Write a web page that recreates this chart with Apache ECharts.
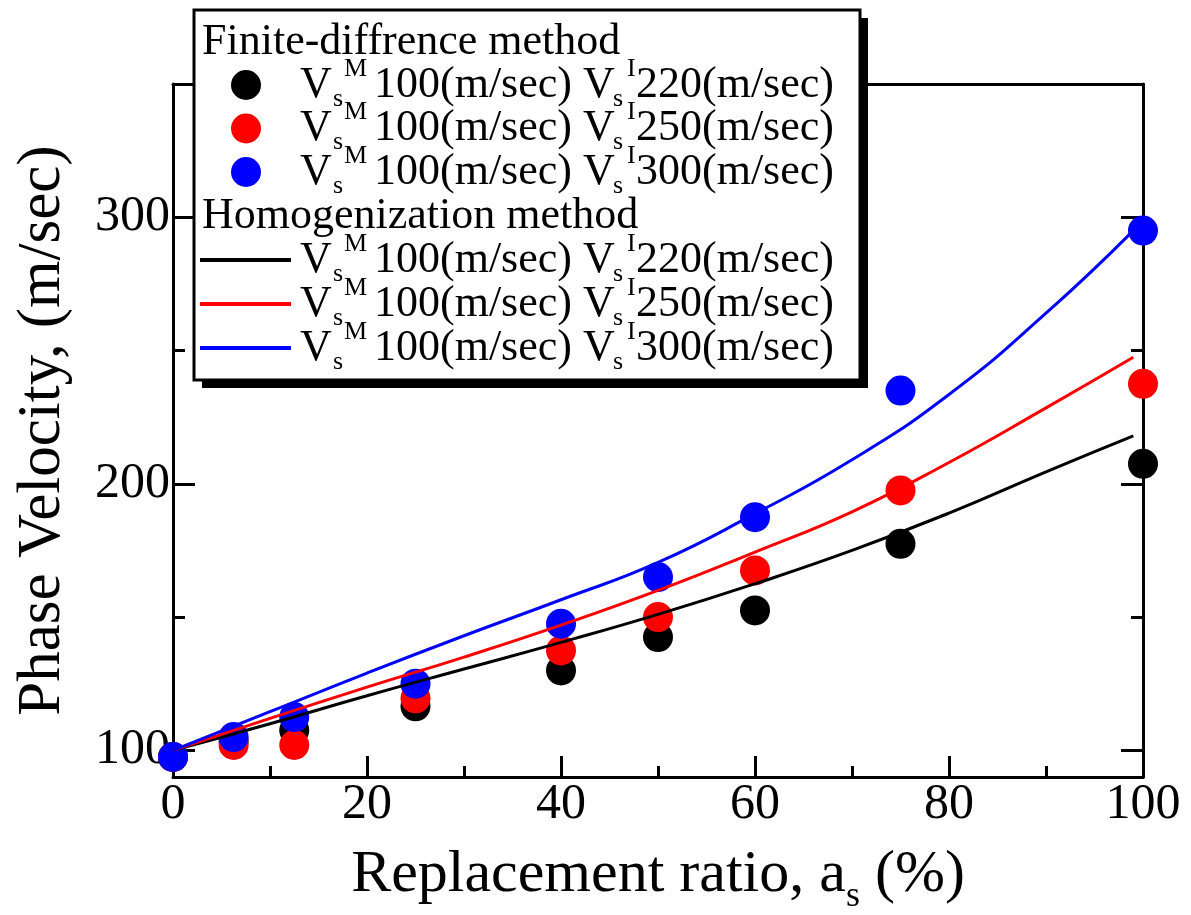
<!DOCTYPE html>
<html>
<head>
<meta charset="utf-8">
<script src="https://cdn.jsdelivr.net/npm/echarts@6/dist/echarts.min.js"></script>
<style>
html,body{margin:0;padding:0;background:#fff;}
#chart{width:1191px;height:915px;}
</style>
</head>
<body>
<div id="chart"></div>
<script>
// ---- data ----
var scatterX = [0, 6.25, 12.5, 25, 40, 50, 60, 75, 100];
var fdBlack = [97.5, 103.5, 107.5, 116.5, 130, 142.5, 152.5, 177.5, 207.5];
var fdRed   = [97.5, 102, 102, 119.5, 137.5, 150, 167.5, 197.5, 237.5];
var fdBlue  = [97.5, 105, 112.5, 125, 147.5, 165, 187.5, 235, 295];

var curveX = [0, 10, 20, 30, 40, 50, 60, 70, 80, 90, 99];
var hmBlack = [100, 110, 120.5, 130.5, 140.5, 151, 162.5, 175, 189, 204.5, 218];
var hmRed   = [100, 112, 123.7, 135, 147, 160, 174.4, 189.5, 208, 228.5, 247.5];
var hmBlue  = [100, 114.5, 129, 143, 156.5, 170.5, 188.8, 209, 233.5, 264, 295];

var yMajorTicks = [100, 200, 300];
var yMinorTicks = [150, 250];
var vsM = ['100', '100', '100'];
var vsI = ['220', '250', '300'];
var headers = ['Finite-diffrence method', 'Homogenization method'];
var colors = ['#000000', '#ff0000', '#0000ff'];

function pairs(xs, ys){ return xs.map(function(x,i){return [x, ys[i]];}); }

var FONT = '"Liberation Serif", "Times New Roman", serif';

// ---- legend (graphic) ----
var g = [];
var L = {left:194, top:10, w:666, h:370};
g.push({type:'rect', z:100, shape:{x:L.left+8, y:L.top+8, width:L.w, height:L.h}, style:{fill:'#000'}});
g.push({type:'rect', z:101, shape:{x:L.left, y:L.top, width:L.w, height:L.h}, style:{fill:'#fff', stroke:'#000', lineWidth:3}});
function txt(s, x, y, size){
  return {type:'text', z:102, x:x, y:y, style:{text:s, fill:'#000', font: size+'px '+FONT, textAlign:'left', textVerticalAlign:'middle', verticalAlign:'middle'}};
}
var baseH = [57, 231];
var rowBase = [[100, 143.5, 187], [275, 319, 363]];
g.push(txt(headers[0], 202, baseH[0]-15, 44));
g.push(txt(headers[1], 202, baseH[1]-15, 44));
for (var grp=0; grp<2; grp++){
  for (var i=0;i<3;i++){
    var b = rowBase[grp][i];
    if (grp===0){
      g.push({type:'circle', z:102, shape:{cx:246, cy:b-15, r:15}, style:{fill:colors[i]}});
    } else {
      g.push({type:'line', z:102, shape:{x1:200, y1:b-15, x2:291, y2:b-15}, style:{stroke:colors[i], lineWidth:4}});
    }
    g.push(txt('V', 300, b-15, 44));
    g.push(txt('s', 333, b-1, 26));
    g.push(txt('M', 344, b-31, 26));
    g.push(txt(vsM[i] + '(m/sec) V', 374, b-15, 44));
    g.push(txt('s', 613, b-1, 26));
    g.push(txt('I', 627, b-31, 26));
    g.push(txt(vsI[i] + '(m/sec)', 636, b-15, 44));
  }
}

var axisLineStyle = {color:'#000', width:3};
function yAx(pos, ticks, len, showLine, showLabel, extra){
  var a = {
    type:'value', min:90, max:350, position:pos,
    axisLine:{show:showLine, lineStyle:axisLineStyle},
    axisTick:{show:true, inside:true, length:len, customValues:ticks, lineStyle:{color:'#000', width:3}},
    axisLabel:{show:showLabel, customValues:ticks, fontFamily:FONT, fontSize:50, color:'#000', margin:3},
    splitLine:{show:false}
  };
  if (extra) for (var k in extra) a[k]=extra[k];
  return a;
}

var option = {
  backgroundColor:'#fff',
  animation:false,
  grid:{left:173, right:48, top:84, bottom:138, containLabel:false, outerBoundsMode:'none'},
  xAxis:[
    {type:'value', min:0, max:100, interval:20, position:'bottom',
     axisLine:{show:true, lineStyle:axisLineStyle},
     axisTick:{show:true, inside:true, length:21, lineStyle:{color:'#000', width:3}},
     minorTick:{show:true, splitNumber:2, length:11, lineStyle:{color:'#000', width:3}},
     axisLabel:{fontFamily:FONT, fontSize:50, color:'#000', margin:3},
     splitLine:{show:false}, minorSplitLine:{show:false},
     name:'Replacement ratio, a{sub|s} (%)', nameLocation:'middle', nameGap:68,
     nameTextStyle:{fontFamily:FONT, fontSize:60, color:'#000',
       rich:{sub:{fontFamily:FONT, fontSize:36, color:'#000', verticalAlign:'bottom', padding:[0,0,-10,0]}}}
    },
    {type:'value', min:0, max:100, position:'top',
     axisLine:{show:true, lineStyle:axisLineStyle}, axisTick:{show:false}, axisLabel:{show:false}, splitLine:{show:false}}
  ],
  yAxis:[
    yAx('left', yMajorTicks, 22, true, true, {
      name:'Phase Velocity, (m/sec)', nameLocation:'middle', nameGap:100,
      nameTextStyle:{fontFamily:FONT, fontSize:61, color:'#000'}
    }),
    yAx('left', yMinorTicks, 12, false, false),
    yAx('right', yMajorTicks, 22, true, false),
    yAx('right', yMinorTicks, 12, false, false)
  ],
  graphic: g,
  series:[
    {type:'scatter', name:'FD 220', data:pairs(scatterX, fdBlack), symbolSize:30, itemStyle:{color:colors[0], opacity:1}, clip:false, z:2},
    {type:'scatter', name:'FD 250', data:pairs(scatterX, fdRed), symbolSize:30, itemStyle:{color:colors[1], opacity:1}, clip:false, z:2},
    {type:'scatter', name:'FD 300', data:pairs(scatterX, fdBlue), symbolSize:30, itemStyle:{color:colors[2], opacity:1}, clip:false, z:2},
    {type:'line', name:'HM 220', data:pairs(curveX, hmBlack), showSymbol:false, symbol:'none', smooth:0.5, lineStyle:{color:colors[0], width:3}, z:3},
    {type:'line', name:'HM 250', data:pairs(curveX, hmRed), showSymbol:false, symbol:'none', smooth:0.5, lineStyle:{color:colors[1], width:3}, z:3},
    {type:'line', name:'HM 300', data:pairs(curveX, hmBlue), showSymbol:false, symbol:'none', smooth:0.5, lineStyle:{color:colors[2], width:3}, z:3}
  ]
};
var chart = echarts.init(document.getElementById('chart'), null, {renderer:'canvas'});
chart.setOption(option);
</script>
</body>
</html>
